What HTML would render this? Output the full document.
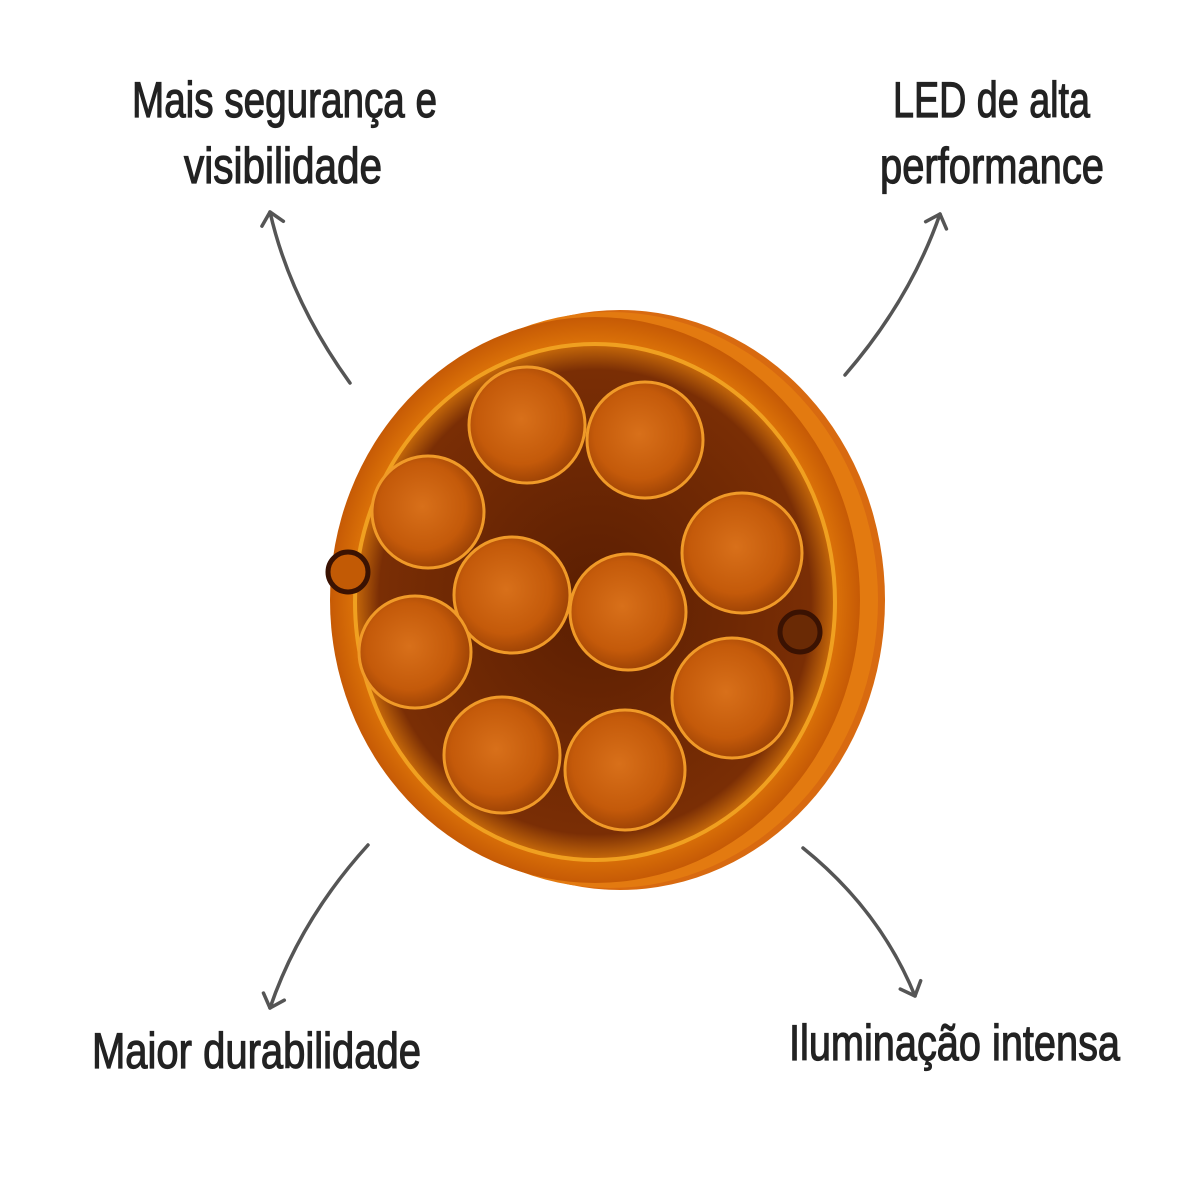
<!DOCTYPE html>
<html><head><meta charset="utf-8"><style>
html,body{margin:0;padding:0;background:#fff;}
svg{display:block;}
text{font-family:"Liberation Sans Narrow","Liberation Sans",sans-serif;fill:#222;font-size:50px;stroke:#222;stroke-width:1.2px;}
</style></head><body>
<svg width="1200" height="1200" viewBox="0 0 1200 1200" xmlns="http://www.w3.org/2000/svg">
<defs>
<marker id="ah" markerWidth="30" markerHeight="30" refX="15" refY="15" orient="auto" markerUnits="userSpaceOnUse">
<path d="M3,4 L15,15 L3,26" fill="none" stroke="#555" stroke-width="3.5" stroke-linecap="round" stroke-linejoin="round"/>
</marker>
<radialGradient id="rim" cx="50%" cy="50%" r="50%">
<stop offset="0.85" stop-color="#e8800a"/><stop offset="1" stop-color="#c65a05"/>
</radialGradient>
<radialGradient id="face" cx="50%" cy="50%" r="50%">
<stop offset="0" stop-color="#5a1e02"/><stop offset="0.9" stop-color="#7a2e05"/><stop offset="1" stop-color="#c86a0a"/>
</radialGradient>
<radialGradient id="led" cx="45%" cy="45%" r="55%">
<stop offset="0" stop-color="#d8701a"/><stop offset="0.7" stop-color="#c45a0a"/><stop offset="1" stop-color="#a04405"/>
</radialGradient>
</defs>
<rect width="1200" height="1200" fill="#fff"/>
<text x="132" y="117" textLength="305" lengthAdjust="spacingAndGlyphs">Mais segurança e</text>
<text x="184" y="183" textLength="198" lengthAdjust="spacingAndGlyphs">visibilidade</text>
<text x="893" y="117" textLength="197" lengthAdjust="spacingAndGlyphs">LED de alta</text>
<text x="880" y="183" textLength="224" lengthAdjust="spacingAndGlyphs">performance</text>
<text x="92" y="1068" textLength="329" lengthAdjust="spacingAndGlyphs">Maior durabilidade</text>
<text x="789" y="1060" textLength="331" lengthAdjust="spacingAndGlyphs">Iluminação intensa</text>
<g fill="none" stroke="#555" stroke-width="3.5" stroke-linecap="round">
<path d="M350,383 Q290,300 270,212" marker-end="url(#ah)"/>
<path d="M845,375 Q910,300 940,214" marker-end="url(#ah)"/>
<path d="M368,845 Q300,920 270,1008" marker-end="url(#ah)"/>
<path d="M803,848 Q880,910 915,996" marker-end="url(#ah)"/>
</g>
<ellipse cx="620" cy="600" rx="265" ry="290" fill="#d86a10"/>
<ellipse cx="610" cy="600" rx="268" ry="288" fill="#e37a10"/>
<ellipse cx="595" cy="600" rx="265" ry="283" fill="url(#rim)"/>
<ellipse cx="595" cy="602" rx="240" ry="258" fill="url(#face)" stroke="#f0a020" stroke-width="4"/>
<g stroke="#f09a28" stroke-width="3" fill="url(#led)">
<circle cx="527" cy="425" r="58"/>
<circle cx="645" cy="440" r="58"/>
<circle cx="428" cy="512" r="56"/>
<circle cx="742" cy="553" r="60"/>
<circle cx="512" cy="595" r="58"/>
<circle cx="628" cy="612" r="58"/>
<circle cx="415" cy="652" r="56"/>
<circle cx="732" cy="698" r="60"/>
<circle cx="502" cy="755" r="58"/>
<circle cx="625" cy="770" r="60"/>
</g>
<circle cx="348" cy="572" r="20" fill="#c25a05" stroke="#3a1202" stroke-width="5"/>
<circle cx="800" cy="632" r="20" fill="#6a2a05" stroke="#3a1202" stroke-width="5"/>
</svg>
</body></html>
